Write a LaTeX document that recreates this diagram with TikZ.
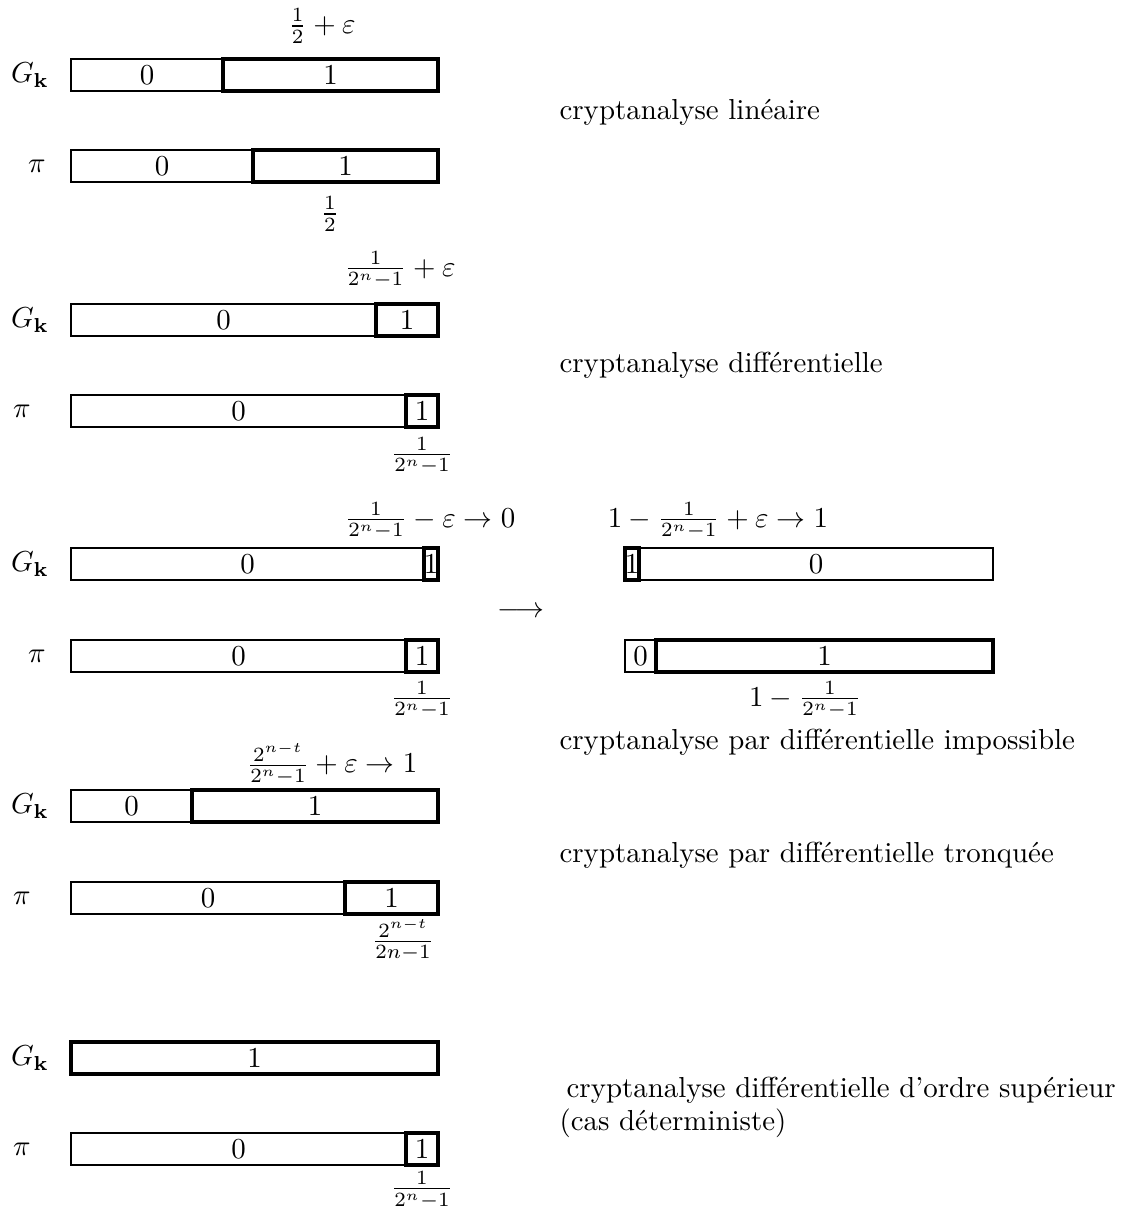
\documentclass[tikz,border=0pt]{standalone}
\usetikzlibrary{fit}
\tikzset{
  thincell/.style={draw=black, line width=0.4pt, inner sep=0pt, outer sep=0pt},
  thickcell/.style={draw=black, line width=1.2pt, inner sep=0pt, outer sep=0pt},
  lbl/.style={inner sep=0pt},
  caption/.style={inner sep=0pt, anchor=west},
}
\begin{document}
\begin{tikzpicture}[x=0.346pt,y=-0.346pt]
\useasboundingbox (0,0) rectangle (1125,1211);

% ---------- Panel 1: linear ----------
\node[lbl] (g1lab) at (30,75) {$G_{\mathbf{k}}$};
\node[thincell, fit={(71,59)(223,91)}] (g1a) {};
\node[thickcell, fit={(223,59)(438,91)}] (g1b) {};
\node[lbl] (g1at) at (g1a.center) {0};
\node[lbl] (g1bt) at (g1b.center) {1};
\node[lbl] (g1top) at (322,26) {$\frac12+\varepsilon$};
\node[lbl] (p1lab) at (37,166) {$\pi$};
\node[thincell, fit={(71,150)(253,182)}] (p1a) {};
\node[thickcell, fit={(253,150)(438,182)}] (p1b) {};
\node[lbl] (p1at) at (p1a.center) {0};
\node[lbl] (p1bt) at (p1b.center) {1};
\node[lbl] (p1bot) at (330,214) {$\frac12$};
\node[caption] (c1) at (559,112) {cryptanalyse linéaire};

% ---------- Panel 2: differential ----------
\node[lbl] (g2lab) at (30,320) {$G_{\mathbf{k}}$};
\node[thincell, fit={(71,304)(376,336)}] (g2a) {};
\node[thickcell, fit={(376,304)(438,336)}] (g2b) {};
\node[lbl] (g2at) at (g2a.center) {0};
\node[lbl] (g2bt) at (g2b.center) {1};
\node[lbl] (g2top) at (400,270) {$\frac{1}{2^n-1}+\varepsilon$};
\node[lbl] (p2lab) at (22,411) {$\pi$};
\node[thincell, fit={(71,395)(406,427)}] (p2a) {};
\node[thickcell, fit={(406,395)(438,427)}] (p2b) {};
\node[lbl] (p2at) at (p2a.center) {0};
\node[lbl] (p2bt) at (p2b.center) {1};
\node[lbl] (p2bot) at (422,456) {$\frac{1}{2^n-1}$};
\node[caption] (c2) at (559,365) {cryptanalyse différentielle};

% ---------- Panel 3: impossible differential ----------
\node[lbl] (g3lab) at (30,564) {$G_{\mathbf{k}}$};
\node[thincell, fit={(71,548)(424,580)}] (g3a) {};
\node[thickcell, fit={(424,548)(438,580)}] (g3b) {};
\node[lbl] (g3at) at (g3a.center) {0};
\node[lbl] (g3bt) at (g3b.center) {1};
\node[lbl] (g3top) at (430,521) {$\frac{1}{2^n-1}-\varepsilon\to 0$};
\node[lbl] (p3lab) at (37,656) {$\pi$};
\node[thincell, fit={(71,640)(406,672)}] (p3a) {};
\node[thickcell, fit={(406,640)(438,672)}] (p3b) {};
\node[lbl] (p3at) at (p3a.center) {0};
\node[lbl] (p3bt) at (p3b.center) {1};
\node[lbl] (p3bot) at (422,700) {$\frac{1}{2^n-1}$};
\node[lbl] (arr) at (521,612) {$\longrightarrow$};
\node[lbl] (g3rtop) at (718,521) {$1-\frac{1}{2^n-1}+\varepsilon\to 1$};
\node[thincell, fit={(639,548)(993,580)}] (g3rb) {};
\node[thickcell, fit={(625,548)(639,580)}] (g3ra) {};
\node[lbl] (g3rbt) at (g3rb.center) {0};
\node[lbl] (g3rat) at (g3ra.center) {1};
\node[thincell, fit={(625,640)(656,672)}] (p3ra) {};
\node[thickcell, fit={(656,640)(993,672)}] (p3rb) {};
\node[lbl] (p3rat) at (p3ra.center) {0};
\node[lbl] (p3rbt) at (p3rb.center) {1};
\node[lbl] (p3rbot) at (805,700) {$1-\frac{1}{2^n-1}$};
\node[caption] (c3) at (559,742) {cryptanalyse par différentielle impossible};

% ---------- Panel 4: truncated differential ----------
\node[lbl] (g4lab) at (30,806) {$G_{\mathbf{k}}$};
\node[thincell, fit={(71,790)(192,822)}] (g4a) {};
\node[thickcell, fit={(192,790)(438,822)}] (g4b) {};
\node[lbl] (g4at) at (g4a.center) {0};
\node[lbl] (g4bt) at (g4b.center) {1};
\node[lbl] (g4top) at (332,764) {$\frac{2^{n-t}}{2^n-1}+\varepsilon\to 1$};
\node[lbl] (p4lab) at (22,898) {$\pi$};
\node[thincell, fit={(71,882)(345,914)}] (p4a) {};
\node[thickcell, fit={(345,882)(438,914)}] (p4b) {};
\node[lbl] (p4at) at (p4a.center) {0};
\node[lbl] (p4bt) at (p4b.center) {1};
\node[lbl] (p4bot) at (403,940) {$\frac{2^{n-t}}{2n-1}$};
\node[caption] (c4) at (559,855) {cryptanalyse par différentielle tronquée};

% ---------- Panel 5: higher order ----------
\node[lbl] (g5lab) at (30,1058) {$G_{\mathbf{k}}$};
\node[thickcell, fit={(71,1042)(438,1074)}] (g5a) {};
\node[lbl] (g5at) at (g5a.center) {1};
\node[lbl] (p5lab) at (22,1149) {$\pi$};
\node[thincell, fit={(71,1133)(406,1165)}] (p5a) {};
\node[thickcell, fit={(406,1133)(438,1165)}] (p5b) {};
\node[lbl] (p5at) at (p5a.center) {0};
\node[lbl] (p5bt) at (p5b.center) {1};
\node[lbl] (p5bot) at (422,1190) {$\frac{1}{2^n-1}$};
\node[caption] (c5a) at (566,1090) {cryptanalyse différentielle d'ordre supérieur};
\node[caption] (c5b) at (559,1123) {(cas déterministe)};
\end{tikzpicture}
\end{document}
